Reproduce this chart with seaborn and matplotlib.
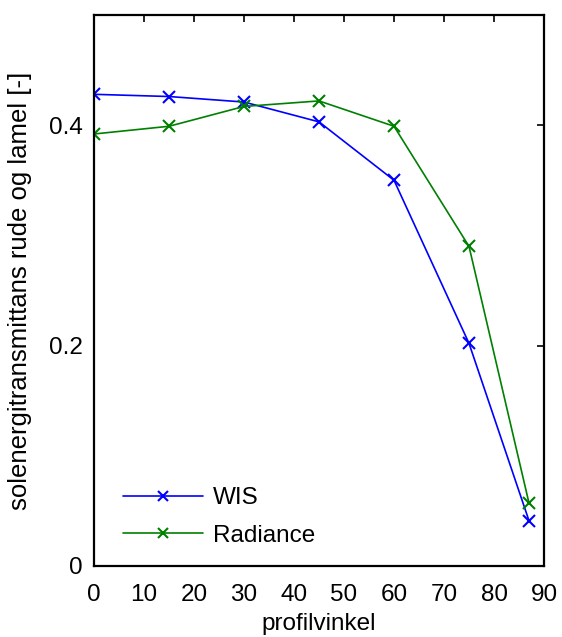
import matplotlib
matplotlib.use("Agg")
import matplotlib.pyplot as plt
import seaborn as sns
import pandas as pd

# profile angles and transmittance values
angles = [0, 15, 30, 45, 60, 75, 87]
wis = [0.428, 0.426, 0.421, 0.403, 0.350, 0.202, 0.041]
radiance = [0.392, 0.399, 0.417, 0.422, 0.399, 0.290, 0.057]
series_names = ['WIS', 'Radiance']
colors = {'WIS': '#0000FF', 'Radiance': '#008000'}

df = pd.DataFrame({
    'profilvinkel': angles * 2,
    'value': wis + radiance,
    'series': ['WIS'] * len(angles) + ['Radiance'] * len(angles),
})

sns.set_style('white')
plt.rcParams['font.family'] = ['Liberation Sans', 'DejaVu Sans']
plt.rcParams['text.color'] = 'black'
plt.rcParams['axes.labelcolor'] = 'black'

FS = 17.5

fig = plt.figure(figsize=(5.62, 6.37), dpi=100)
ax = fig.add_axes([0.1673, 0.1115, 0.8007, 0.865])

sns.lineplot(
    data=df, x='profilvinkel', y='value', hue='series',
    hue_order=series_names, palette=colors, ax=ax,
    marker='x', markersize=8, markeredgewidth=1.5, linewidth=1.2,
    sort=False, legend=False,
)
# seaborn paints marker edges white; give them the line colour
for ln in ax.lines:
    ln.set_markeredgecolor(ln.get_color())

ax.set_xlim(0, 90)
ax.set_ylim(0, 0.5)
ax.set_xticks(range(0, 91, 10))
ax.set_yticks([0, 0.2, 0.4])
ax.set_yticklabels(['0', '0.2', '0.4'])
ax.tick_params(direction='in', length=5, width=1.2, top=True, right=True,
               labelsize=FS, colors='black', pad=8)
ax.tick_params(axis='x', pad=13)
for sp in ax.spines.values():
    sp.set_visible(True)
    sp.set_color('black')
    sp.set_linewidth(1.6)

ax.set_xlabel('profilvinkel', fontsize=FS, labelpad=5)
ax.set_ylabel('solenergitransmittans rude og lamel [-]', fontsize=18.5)
ax.yaxis.set_label_coords(-0.137, 0.5)

handles = [plt.Line2D([], [], color=colors[s], marker='x', markersize=7,
                      markeredgewidth=1.5, linewidth=1.2) for s in series_names]
ax.legend(handles, series_names, loc='lower left', frameon=False, fontsize=FS,
          handlelength=3.3, handletextpad=0.4, labelspacing=0.65,
          borderaxespad=0, bbox_to_anchor=(0.042, 0.017))

fig.savefig('out.png', dpi=100)
